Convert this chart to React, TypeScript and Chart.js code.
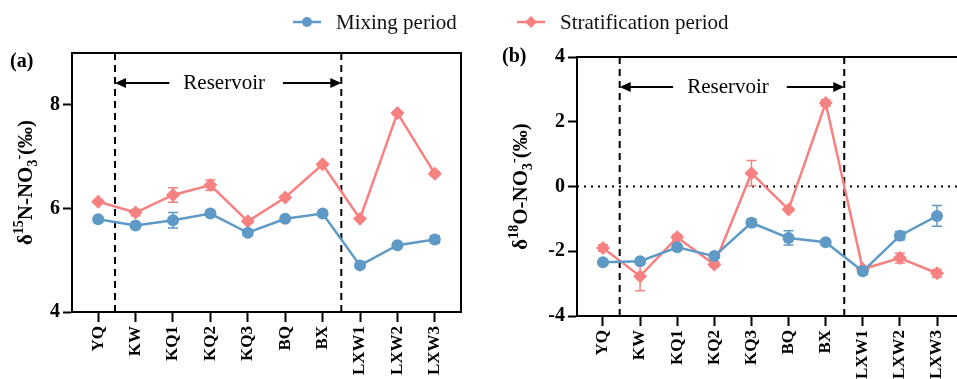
import React, { useEffect, useRef } from "react";
import { Chart, registerables } from "chart.js";
Chart.register(...registerables);

const sites = ["YQ", "KW", "KQ1", "KQ2", "KQ3", "BQ", "BX", "LXW1", "LXW2", "LXW3"];
const n15Mixing = [5.79, 5.67, 5.77, 5.9, 5.53, 5.8, 5.9, 4.9, 5.29, 5.4];
const n15MixingErr = [0.03, 0.03, 0.15, 0.03, 0.04, 0.03, 0.02, 0.02, 0.03, 0.07];
const n15Strat = [6.13, 5.92, 6.26, 6.45, 5.75, 6.21, 6.85, 5.8, 7.84, 6.67];
const n15StratErr = [0.03, 0.06, 0.14, 0.1, 0.03, 0.03, 0.03, 0.02, 0.03, 0.04];
const o18Mixing = [-2.34, -2.31, -1.88, -2.15, -1.12, -1.59, -1.72, -2.62, -1.52, -0.91];
const o18MixingErr = [0.03, 0.03, 0.05, 0.05, 0.12, 0.22, 0.03, 0.05, 0.13, 0.32];
const o18Strat = [-1.9, -2.77, -1.57, -2.41, 0.41, -0.71, 2.58, -2.55, -2.21, -2.68];
const o18StratErr = [0.1, 0.45, 0.09, 0.08, 0.39, 0.04, 0.1, 0.04, 0.15, 0.12];
const n15Ticks = [4, 6, 8];
const o18Ticks = [-4, -2, 0, 2, 4];
const reservoirBounds = [0.45, 6.5];

const BLUE = "rgb(94,154,197)";
const PINK = "rgb(247,128,128)";
const FONT = "'Liberation Serif', 'Times New Roman', serif";

type TitlePart = { t: string; s: "n" | "sup" | "sub" };

const n15Title: TitlePart[] = [
  { t: "δ", s: "n" }, { t: "15", s: "sup" }, { t: "N-NO", s: "n" },
  { t: "3", s: "sub" }, { t: "-", s: "sup" }, { t: "(‰)", s: "n" },
];
const o18Title: TitlePart[] = [
  { t: "δ", s: "n" }, { t: "18", s: "sup" }, { t: "O-NO", s: "n" },
  { t: "3", s: "sub" }, { t: "-", s: "sup" }, { t: "(‰)", s: "n" },
];

type PanelCfg = {
  label: string;
  labelX: number;
  labelY: number;
  titleX: number;
  title: TitlePart[];
  zeroLine: boolean;
  errs: number[][];
};

const decorPlugin = {
  id: "decor",
  beforeDatasetsDraw(chart: any) {
    const cfg: PanelCfg = chart.options.plugins.decor;
    const { ctx, chartArea } = chart;
    const xs = chart.scales.x;
    const ys = chart.scales.y;
    ctx.save();
    // zero line
    if (cfg.zeroLine) {
      const y0 = ys.getPixelForValue(0);
      ctx.strokeStyle = "#000";
      ctx.lineWidth = 2;
      ctx.setLineDash([2, 5]);
      ctx.beginPath();
      ctx.moveTo(chartArea.left, y0);
      ctx.lineTo(chartArea.right, y0);
      ctx.stroke();
    }
    // dashed verticals
    ctx.setLineDash([7, 5]);
    ctx.lineWidth = 2;
    ctx.strokeStyle = "#000";
    reservoirBounds.forEach((v) => {
      const px = xs.getPixelForValue(v);
      ctx.beginPath();
      ctx.moveTo(px, chartArea.top);
      ctx.lineTo(px, chartArea.bottom);
      ctx.stroke();
    });
    ctx.setLineDash([]);
    // error bars
    chart.data.datasets.forEach((ds: any, di: number) => {
      const errs = cfg.errs[di];
      ctx.strokeStyle = ds.borderColor;
      ctx.lineWidth = 1.5;
      ds.data.forEach((p: any, i: number) => {
        const px = xs.getPixelForValue(p.x);
        const yTop = ys.getPixelForValue(p.y + errs[i]);
        const yBot = ys.getPixelForValue(p.y - errs[i]);
        ctx.beginPath();
        ctx.moveTo(px, yTop);
        ctx.lineTo(px, yBot);
        ctx.moveTo(px - 5, yTop);
        ctx.lineTo(px + 5, yTop);
        ctx.moveTo(px - 5, yBot);
        ctx.lineTo(px + 5, yBot);
        ctx.stroke();
      });
    });
    ctx.restore();
  },
  afterDraw(chart: any) {
    const cfg: PanelCfg = chart.options.plugins.decor;
    const { ctx, chartArea } = chart;
    const xs = chart.scales.x;
    ctx.save();
    // top and right border
    ctx.strokeStyle = "#000";
    ctx.lineWidth = 2;
    ctx.beginPath();
    ctx.moveTo(chartArea.left - 1, chartArea.top);
    ctx.lineTo(chartArea.right, chartArea.top);
    ctx.lineTo(chartArea.right, chartArea.bottom);
    ctx.stroke();
    // Reservoir arrow
    const ay = chartArea.top + 30;
    const lx = xs.getPixelForValue(reservoirBounds[0]);
    const rx = xs.getPixelForValue(reservoirBounds[1]);
    const mid = (lx + rx) / 2 - 4;
    ctx.font = `21px ${FONT}`;
    ctx.fillStyle = "#000";
    ctx.textAlign = "center";
    ctx.textBaseline = "middle";
    const txt = "Reservoir";
    const w = ctx.measureText(txt).width;
    ctx.fillText(txt, mid, ay);
    ctx.lineWidth = 2;
    ctx.beginPath();
    ctx.moveTo(lx + 8, ay);
    ctx.lineTo(mid - w / 2 - 14, ay);
    ctx.moveTo(mid + w / 2 + 18, ay);
    ctx.lineTo(rx - 8, ay);
    ctx.stroke();
    ctx.beginPath();
    ctx.moveTo(lx, ay);
    ctx.lineTo(lx + 11, ay - 5);
    ctx.lineTo(lx + 11, ay + 5);
    ctx.closePath();
    ctx.fill();
    ctx.beginPath();
    ctx.moveTo(rx, ay);
    ctx.lineTo(rx - 11, ay - 5);
    ctx.lineTo(rx - 11, ay + 5);
    ctx.closePath();
    ctx.fill();
    // panel label
    ctx.font = `bold 20px ${FONT}`;
    ctx.textAlign = "left";
    ctx.fillText(cfg.label, cfg.labelX, cfg.labelY);
    // y title with sub/superscripts
    const size = 21;
    const fontFor = (s: string) => `bold ${s === "n" ? size : Math.round(size * 0.68)}px ${FONT}`;
    let total = 0;
    cfg.title.forEach((p) => {
      ctx.font = fontFor(p.s);
      total += ctx.measureText(p.t).width;
    });
    const cy = (chartArea.top + chartArea.bottom) / 2;
    ctx.translate(cfg.titleX, cy);
    ctx.rotate(-Math.PI / 2);
    ctx.textBaseline = "alphabetic";
    let x = -total / 2;
    const base = 7;
    cfg.title.forEach((p) => {
      ctx.font = fontFor(p.s);
      const dy = p.s === "sup" ? -size * 0.42 : p.s === "sub" ? size * 0.25 : 0;
      ctx.fillText(p.t, x, base + dy);
      x += ctx.measureText(p.t).width;
    });
    ctx.restore();
  },
};

function makeConfig(
  mix: number[], strat: number[], errs: number[][], yMin: number, yMax: number,
  yTicks: number[], yWidth: number, xHeight: number, padTop: number, padRight: number,
  decor: PanelCfg
) {
  const toPts = (arr: number[]) => arr.map((v, i) => ({ x: i, y: v }));
  return {
    type: "line" as const,
    data: {
      datasets: [
        {
          label: "Mixing period",
          data: toPts(mix),
          borderColor: BLUE,
          backgroundColor: BLUE,
          borderWidth: 2.5,
          pointStyle: "circle",
          pointRadius: 6,
          pointBorderWidth: 0,
          tension: 0,
        },
        {
          label: "Stratification period",
          data: toPts(strat),
          borderColor: PINK,
          backgroundColor: PINK,
          borderWidth: 2.5,
          pointStyle: "rectRot",
          pointRadius: 7,
          pointBorderWidth: 0,
          tension: 0,
        },
      ],
    },
    options: {
      animation: false as const,
      responsive: false,
      maintainAspectRatio: false,
      layout: { padding: { top: padTop, right: padRight, left: 0, bottom: 0 } },
      plugins: {
        legend: { display: false },
        tooltip: { enabled: false },
        decor,
      },
      scales: {
        x: {
          type: "linear" as const,
          min: -0.7,
          max: 9.7,
          afterBuildTicks: (scale: any) => {
            scale.ticks = sites.map((_, i) => ({ value: i }));
          },
          afterFit: (scale: any) => {
            scale.height = xHeight;
          },
          ticks: {
            autoSkip: false,
            minRotation: 90,
            maxRotation: 90,
            padding: 4,
            color: "#000",
            font: { family: FONT, size: 17, weight: "bold" as const },
            callback: (v: any) => sites[v],
          },
          grid: {
            drawOnChartArea: false,
            drawTicks: true,
            tickLength: 10,
            tickWidth: 2,
            tickColor: "#000",
          },
          border: { display: true, color: "#000", width: 2 },
        },
        y: {
          min: yMin,
          max: yMax,
          afterBuildTicks: (scale: any) => {
            scale.ticks = yTicks.map((v) => ({ value: v }));
          },
          afterFit: (scale: any) => {
            scale.width = yWidth;
          },
          ticks: {
            padding: 3,
            color: "#000",
            font: { family: FONT, size: 20, weight: "bold" as const },
          },
          grid: {
            drawOnChartArea: false,
            drawTicks: true,
            tickLength: 9,
            tickWidth: 2,
            tickColor: "#000",
          },
          border: { display: true, color: "#000", width: 2 },
        },
      },
    },
    plugins: [decorPlugin],
  };
}

function Panel(props: { left: number; width: number; config: any }) {
  const ref = useRef<HTMLCanvasElement>(null);
  useEffect(() => {
    const chart = new Chart(ref.current as HTMLCanvasElement, props.config);
    return () => chart.destroy();
  }, []);
  return (
    <canvas
      ref={ref}
      width={props.width}
      height={379}
      style={{ position: "absolute", left: props.left, top: 0, width: props.width, height: 379 }}
    />
  );
}

function LegendItem(props: { x: number; color: string; diamond: boolean; text: string }) {
  return (
    <div style={{ position: "absolute", left: props.x, top: 8, height: 28, display: "flex", alignItems: "center" }}>
      <svg width={30} height={28} style={{ display: "block" }}>
        <line x1={1} y1={14} x2={29} y2={14} stroke={props.color} strokeWidth={2.5} />
        {props.diamond ? (
          <polygon points="15,8 21,14 15,20 9,14" fill={props.color} />
        ) : (
          <circle cx={15} cy={14} r={5} fill={props.color} />
        )}
      </svg>
      <span style={{ marginLeft: 14, fontFamily: FONT, fontSize: 21, color: "#111", whiteSpace: "nowrap" }}>
        {props.text}
      </span>
    </div>
  );
}

export default function App() {
  const cfgA = makeConfig(
    n15Mixing, n15Strat, [n15MixingErr, n15StratErr], 4, 9, n15Ticks, 72, 67, 53, 19,
    { label: "(a)", labelX: 10, labelY: 62, titleX: 25, title: n15Title, zeroLine: false, errs: [n15MixingErr, n15StratErr] }
  );
  const cfgB = makeConfig(
    o18Mixing, o18Strat, [o18MixingErr, o18StratErr], -4, 4, o18Ticks, 97, 63, 57, 5,
    { label: "(b)", labelX: 22, labelY: 57, titleX: 40, title: o18Title, zeroLine: true, errs: [o18MixingErr, o18StratErr] }
  );
  return (
    <div style={{ position: "fixed", left: 0, top: 0, width: 957, height: 379, overflow: "hidden", background: "#fff" }}>
      <Panel left={0} width={480} config={cfgA} />
      <Panel left={480} width={490} config={cfgB} />
      <LegendItem x={292} color={BLUE} diamond={false} text="Mixing period" />
      <LegendItem x={516} color={PINK} diamond={true} text="Stratification period" />
    </div>
  );
}
